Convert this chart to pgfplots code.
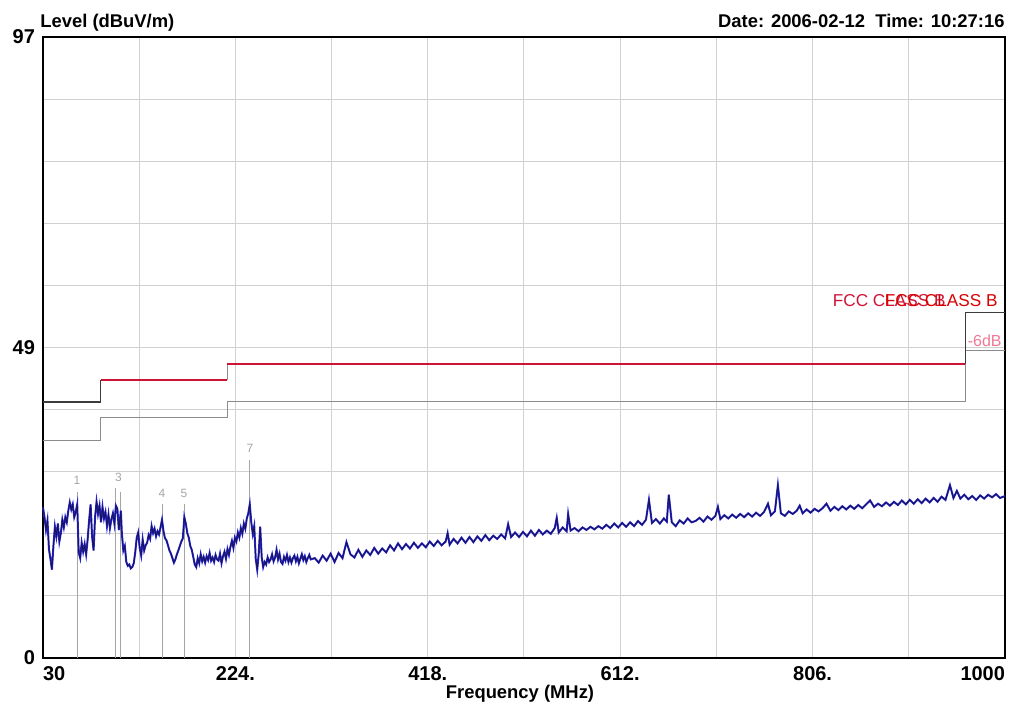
\documentclass[border=0pt]{standalone}
\usepackage{pgfplots}
\usepackage{pgfplotstable}
\pgfplotsset{compat=1.18}
\usepackage{fontspec}
\setmainfont{Liberation Sans}
\definecolor{gridc}{RGB}{208,208,208}
\definecolor{limred}{RGB}{205,20,55}
\definecolor{limgray}{RGB}{60,60,60}
\definecolor{margray}{RGB}{140,140,140}
\definecolor{trblue}{RGB}{40,40,220}
\definecolor{trnavy}{RGB}{25,20,90}
\definecolor{mkgray}{RGB}{165,165,165}
\definecolor{pinkc}{RGB}{240,120,150}

\pgfplotstableread{
f dB
30 23.5
31.5 22.0
33 20.0
34.5 21.5
36 17.0
37.5 15.5
39 13.8
40.5 17.5
42 20.5
43.5 19.0
45 21.0
46.5 18.2
48 19.5
49.5 21.6
51 20.4
52.5 22.0
54 21.2
55.5 23.0
57 24.3
58.5 23.2
60 24.0
61.5 22.0
63 22.8
64.5 24.0
66 16.5
67.5 15.6
69 18.0
70.5 16.6
72 17.8
73.5 16.2
75 18.5
76.5 21.5
78 24.0
79.5 19.0
81 16.8
82.5 22.0
84 24.4
85.5 22.5
87 23.8
88.5 21.2
90 23.6
91.5 21.8
93 22.8
94.5 20.6
96 22.4
97.5 20.3
99 21.7
100.5 22.6
102 21.0
103.5 23.8
105 23.3
106.5 20.0
108.5 23.0
109.5 19.5
111 16.8
112.5 17.5
114 15.0
115.5 14.4
117 14.6
118.5 14.0
120 14.2
121.5 14.8
123 16.5
124.5 18.8
126 19.6
127.5 17.2
129 16.0
130.5 18.5
132 16.8
133.5 17.6
135 18.0
136.5 19.2
138 18.6
139.5 20.6
141 19.5
142.5 20.2
144 19.0
145.5 19.8
147 19.3
148.5 20.4
150 21.6
151.5 19.8
153 18.7
154.5 18.4
156 17.6
157.5 16.8
159 16.3
160.5 15.6
162 14.9
163.5 15.4
165 16.2
166.5 16.8
168 17.5
169.5 18.2
171 18.7
172.5 22.0
174 21.0
175.5 19.5
177 18.8
178.5 17.5
180 16.9
181.5 15.8
183 14.6
184.5 14.2
186 15.6
187.5 14.8
189 16.2
190.5 15.1
192 15.8
193.5 14.9
195 15.9
196.5 15.3
198 16.4
199.5 15.2
201 15.7
202.5 15.0
204 16.1
205.5 15.4
207 15.2
208.5 16.3
210 14.8
211.5 15.9
213 16.6
214.5 15.5
216 17.0
217.5 16.1
219 17.4
220.5 18.3
222 17.2
223.5 18.8
225 18.2
226.5 19.6
228 18.8
229.5 20.3
231 19.4
232.5 21.0
234 20.2
235.5 21.8
237 22.6
238.5 24.0
240 21.2
241.5 19.4
243 20.6
244.5 15.5
246 13.8
247.5 16.2
249 20.5
250.5 15.8
252 14.2
253.5 15.0
255 14.6
256.5 15.7
258 15.0
259.5 15.4
261 16.2
262.5 15.1
264 15.7
265.5 16.9
267 15.4
268.5 16.3
270 15.0
271.5 14.7
273 15.8
274.5 15.2
276 16.1
277.5 15.0
279 15.7
280.5 14.9
282 15.6
283.5 16.0
285 15.1
286.5 15.8
288 14.8
289.5 15.5
291 16.2
292.5 15.3
294 15.9
295.5 15.0
297 15.6
298.5 16.1
300 15.4
304 15.6
308 14.9
312 16.0
316 15.2
320 16.3
324 15.0
328 16.4
332 15.6
336 18.1
340 16.2
344 15.7
348 16.9
352 15.8
356 16.8
360 16.1
364 17.2
368 16.3
372 17.1
376 16.5
380 17.6
384 16.8
388 17.9
392 17.0
396 17.8
400 17.1
404 18.0
408 17.2
412 17.9
416 17.3
420 18.2
424 17.5
428 18.3
432 17.6
436 18.2
438 19.5
440 17.7
444 18.6
448 17.9
452 18.8
456 18.0
460 18.9
464 18.1
468 19.0
472 18.3
476 19.2
480 18.4
484 19.1
488 18.6
492 19.3
496 18.7
499 20.9
502 18.9
506 19.6
510 18.9
514 19.7
518 19.0
522 19.9
526 19.1
530 20.0
534 19.3
538 19.9
542 19.4
546 20.3
548 21.9
550 19.6
554 20.4
558 19.8
559.5 22.5
562 19.9
566 20.3
570 19.8
574 20.4
578 20.0
582 20.5
586 20.1
590 20.6
594 20.2
598 20.8
602 20.3
606 21.0
610 20.4
614 21.1
618 20.5
622 21.2
626 20.6
630 21.4
634 20.8
638 21.6
641 24.7
644 21.1
648 21.7
652 21.0
656 21.8
659 21.3
661 25.5
664 21.2
668 20.6
672 21.5
676 21.0
680 21.8
684 21.2
688 21.4
692 21.9
696 21.3
700 22.1
704 21.6
708 22.2
710.5 23.6
713 21.7
717 22.3
721 21.8
725 22.4
729 21.9
733 22.5
737 22.0
741 22.6
745 22.1
749 22.7
753 22.2
757 22.8
761 24.1
764 22.3
768 22.9
771 27.0
774 22.6
778 22.2
782 22.9
786 22.5
790 23.0
793 23.8
796 22.6
800 23.2
804 22.7
808 23.3
812 22.9
816 23.4
820 24.1
824 23.0
828 23.6
832 23.1
836 23.7
840 23.2
844 23.8
848 23.3
852 23.9
856 23.4
860 24.0
864 24.6
868 23.6
872 24.1
876 23.7
880 24.3
884 23.8
888 24.4
892 23.9
896 24.6
900 24.0
904 24.7
908 24.1
912 24.8
916 24.2
920 24.9
924 24.3
928 25.0
932 24.4
936 25.2
940 24.7
944.5 27.0
948 25.0
951.5 26.1
955 24.9
959 25.5
963 24.8
967 25.3
971 24.7
975 25.4
979 24.9
983 25.5
987 25.1
991 25.6
995 25.0
1000 25.3
}\trace

\begin{document}
\begin{tikzpicture}
\path[use as bounding box] (-21.5pt,-27.5pt) rectangle (491.5pt,329pt);
\begin{axis}[
  at={(0,0)}, anchor=south west,
  scale only axis, width=481pt, height=310.5pt,
  xmin=30, xmax=1000, ymin=0, ymax=97,
  clip=false,
  axis line style={black, line width=1pt},
  major tick length=0pt,
  grid=major,
  grid style={gridc, line width=0.5pt},
  xtick={30,127,224,321,418,515,612,709,806,903,1000},
  xticklabels={\makebox[0pt][l]{30},,224.,,418.,,612.,,806.,,\makebox[0pt][r]{1000}},
  ytick={0,9.7,19.4,29.1,38.8,48.5,58.2,67.9,77.6,87.3,97},
  yticklabels={0,,,,,49,,,,,97},
  /pgf/number format/assume math mode=true,
  ticklabel style={font=\fontsize{10}{12}\selectfont\bfseries},
  xticklabel style={anchor=base, yshift=-11pt},
  yticklabel style={anchor=east, xshift=-0.5pt},
]
% margin line (-6 dB)
\addplot[color=margray, line width=0.5pt] coordinates {(30,34) (88,34) (88,37.5) (216,37.5) (216,40) (960,40) (960,48) (1000,48)};
% limit line
\addplot[color=limgray, line width=0.7pt] coordinates {(30,40) (88,40) (88,43.5)};
\addplot[color=margray, line width=0.6pt] coordinates {(216,43.5) (216,46)};
\addplot[color=limgray, line width=0.6pt] coordinates {(960,46) (960,54) (1000,54)};
\addplot[color=limred, line width=1.0pt] coordinates {(88,43.5) (216,43.5)};
\addplot[color=limred, line width=1.0pt] coordinates {(216,46) (960,46)};
% marker lines
\addplot[ycomb, color=mkgray, line width=0.5pt, mark=none] coordinates {(64.3,26.0) (103.6,26.5) (108.6,26.0) (150,24.0) (172.2,24.0) (238.7,31.0)};
% trace
\addplot[color=trblue, line width=1.0pt] table[x=f, y=dB] {\trace};
\addplot[color=trnavy, line width=0.45pt] table[x=f, y=dB] {\trace};
% marker numbers
\node[mkgray, font=\fontsize{6}{7}\selectfont, anchor=south] at (axis cs:64.3,26.0) {1};
\node[mkgray, font=\fontsize{6}{7}\selectfont, anchor=south] at (axis cs:106,26.5) {3};
\node[mkgray, font=\fontsize{6}{7}\selectfont, anchor=south] at (axis cs:150,24.0) {4};
\node[mkgray, font=\fontsize{6}{7}\selectfont, anchor=south] at (axis cs:172.2,24.0) {5};
\node[mkgray, font=\fontsize{6}{7}\selectfont, anchor=south] at (axis cs:238.7,31.0) {7};
% limit labels
\node[limred, font=\fontsize{8.6}{10}\selectfont, anchor=west, inner sep=0pt] at (axis cs:826,55.9) {FCC CLASS B};
\node[red!85!black, font=\fontsize{8.6}{10}\selectfont, anchor=east, inner sep=0pt] at (axis cs:993,55.9) {FCC CLASS B};
\node[pinkc, font=\fontsize{8}{10}\selectfont, anchor=east, inner sep=0pt] at (axis cs:997,49.6) {-6dB};
% titles
\node[font=\fontsize{9.2}{11}\selectfont\bfseries, anchor=base west, inner sep=0pt] at ([xshift=-1.5pt, yshift=5pt]rel axis cs:0,1) {Level (dBuV/m)};
\node[font=\fontsize{9.2}{11}\selectfont\bfseries, anchor=base east, inner sep=0pt] at ([yshift=5pt]rel axis cs:1,1) {Date: 2006-02-12\ \ Time: 10:27:16};
\node[font=\fontsize{9.2}{11}\selectfont\bfseries, anchor=base, inner sep=0pt] at ([xshift=-2pt, yshift=-20pt]rel axis cs:0.5,0) {Frequency (MHz)};
\end{axis}
\end{tikzpicture}
\end{document}
